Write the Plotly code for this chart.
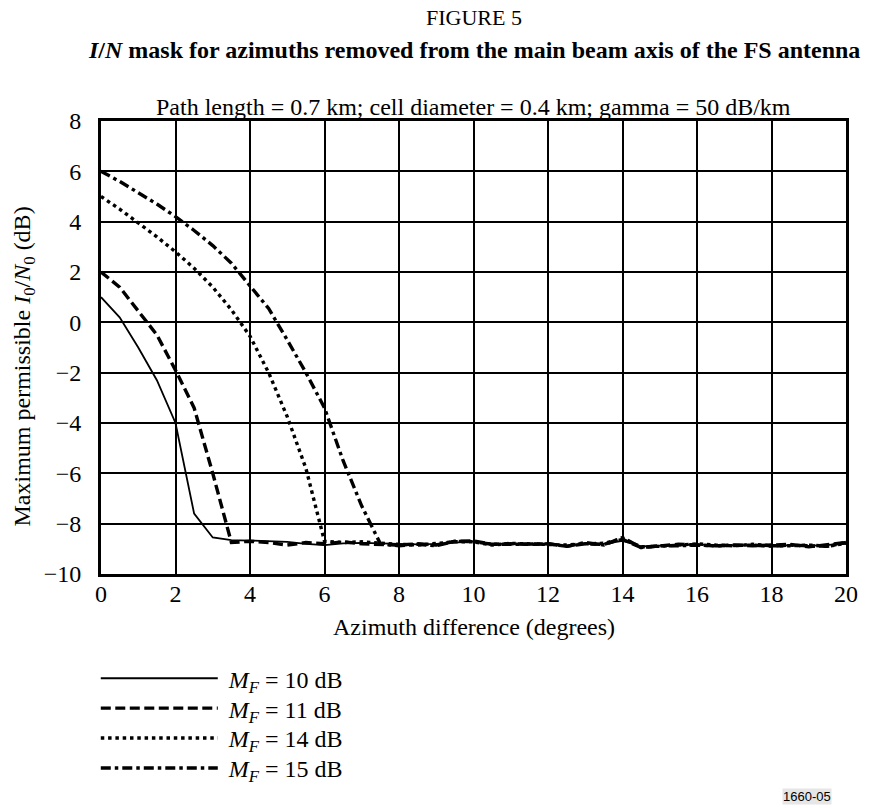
import plotly.graph_objects as go

# ---------------- data ----------------
azimuth = [0, 0.5, 1, 1.5, 2, 2.5, 3, 3.5, 4, 4.5, 5, 5.5, 6, 6.5, 7, 7.5,
           8, 8.5, 9, 9.5, 10, 10.5, 11, 11.5, 12, 12.5, 13, 13.5, 14, 14.5,
           15, 15.5, 16, 16.5, 17, 17.5, 18, 18.5, 19, 19.5, 20]

mf10 = [1.0, 0.2, -1.0, -2.3, -4.0, -7.6, -8.55, -8.65, -8.67, -8.70, -8.72, -8.80, -8.85, -8.78, -8.76, -8.78,
        -8.80, -8.82, -8.80, -8.74, -8.70, -8.80, -8.80, -8.80, -8.82, -8.88, -8.78, -8.80, -8.68, -8.90,
        -8.88, -8.85, -8.82, -8.86, -8.85, -8.85, -8.88, -8.85, -8.88, -8.85, -8.80]
mf11 = [2.0, 1.4, 0.45, -0.5, -1.9, -3.4, -6.0, -8.75, -8.70, -8.75, -8.85, -8.75, -8.80, -8.72, -8.80, -8.82,
        -8.85, -8.80, -8.85, -8.70, -8.68, -8.82, -8.80, -8.82, -8.80, -8.90, -8.80, -8.82, -8.62, -8.95,
        -8.88, -8.82, -8.85, -8.88, -8.85, -8.88, -8.85, -8.82, -8.92, -8.85, -8.75]
mf14 = [5.0, 4.5, 3.95, 3.4, 2.8, 2.15, 1.4, 0.5, -0.55, -2.0, -3.75, -5.8, -8.70, -8.75, -8.72, -8.78,
        -8.82, -8.85, -8.80, -8.72, -8.72, -8.85, -8.78, -8.80, -8.85, -8.85, -8.80, -8.78, -8.60, -8.92,
        -8.90, -8.85, -8.80, -8.85, -8.88, -8.82, -8.88, -8.88, -8.85, -8.90, -8.78]
mf15 = [6.0, 5.6, 5.15, 4.7, 4.2, 3.65, 3.05, 2.35, 1.45, 0.55, -0.7, -2.0, -3.4, -5.5, -7.3, -8.80,
        -8.88, -8.82, -8.88, -8.70, -8.72, -8.82, -8.82, -8.82, -8.80, -8.90, -8.75, -8.85, -8.55, -8.95,
        -8.88, -8.88, -8.85, -8.88, -8.88, -8.85, -8.90, -8.85, -8.88, -8.90, -8.75]

series_names = ["<i>M<sub>F</sub></i> = 10 dB", "<i>M<sub>F</sub></i> = 11 dB",
                "<i>M<sub>F</sub></i> = 14 dB", "<i>M<sub>F</sub></i> = 15 dB"]
series_values = [mf10, mf11, mf14, mf15]

x_ticks = [0, 2, 4, 6, 8, 10, 12, 14, 16, 18, 20]
y_ticks = [-10, -8, -6, -4, -2, 0, 2, 4, 6, 8]

# ---------------- styles ----------------
styles = [
    dict(width=1.8, dash="solid"),
    dict(width=3.4, dash="10px,4.5px"),
    dict(width=3.4, dash="3.5px,3.8px"),
    dict(width=3.4, dash="10px,4px,3.5px,4px"),
]
legend_ids = ["legend", "legend2", "legend3", "legend4"]
legend_rows = [-0.231, -0.297, -0.363, -0.429]

FONT = "Liberation Serif"
FS = 24

fig = go.Figure()
for name, vals, st, lid in zip(series_names, series_values, styles, legend_ids):
    fig.add_trace(go.Scatter(x=azimuth, y=vals, mode="lines", name="&nbsp;" + name, legend=lid,
                             line=dict(color="black", width=st["width"], dash=st["dash"])))

layout_legends = {}
for lid, ly in zip(legend_ids, legend_rows):
    layout_legends[lid] = dict(x=-0.007, y=ly, xanchor="left", yanchor="middle",
                               itemwidth=117, font=dict(family=FONT, size=FS, color="black"),
                               bgcolor="rgba(0,0,0,0)")

fig.update_layout(
    width=870, height=808,
    margin=dict(l=101, r=12, t=121, b=234),
    paper_bgcolor="white", plot_bgcolor="white",
    font=dict(family=FONT, size=FS, color="black"),
    showlegend=True,
    xaxis=dict(range=[0, 20], tickvals=x_ticks, showgrid=True, gridcolor="black", gridwidth=2,
               showline=True, linecolor="black", linewidth=3, mirror=True, zeroline=False,
               ticks="", ticklabelstandoff=-4, tickfont=dict(family=FONT, size=FS, color="black")),
    yaxis=dict(range=[-10, 8], tickvals=y_ticks, showgrid=True, gridcolor="black", gridwidth=2,
               showline=True, linecolor="black", linewidth=3, mirror=True, zeroline=False,
               ticks="", ticklabelstandoff=12, tickfont=dict(family=FONT, size=FS, color="black")),
    **layout_legends,
)

annots = [
    dict(text="FIGURE 5", x=0.5, y=1.2274, size=22),
    dict(text="<b><i>I</i>/<i>N</i> mask for azimuths removed from the main beam axis of the FS antenna</b>",
         x=0.5, y=1.1567, size=24),
    dict(text="Path length = 0.7 km; cell diameter = 0.4 km; gamma = 50 dB/km", x=0.5, y=1.03, size=24),
    dict(text="Azimuth difference (degrees)", x=0.5, y=-0.117, size=24),
]
for a in annots:
    fig.add_annotation(text=a["text"], x=a["x"], y=a["y"], xref="paper", yref="paper",
                       xanchor="center", yanchor="middle", showarrow=False,
                       font=dict(family=FONT, size=a["size"], color="black"))

fig.add_annotation(text="Maximum permissible <i>I</i><sub>0</sub>/<i>N</i><sub>0</sub> (dB)",
                   x=-0.104, y=0.457, xref="paper", yref="paper", textangle=-90,
                   xanchor="center", yanchor="middle", showarrow=False,
                   font=dict(family=FONT, size=FS, color="black"))

fig.add_annotation(text="1660-05", x=0.948, y=-0.492, xref="paper", yref="paper",
                   xanchor="center", yanchor="middle", showarrow=False, borderpad=0,
                   bgcolor="#e6e6e6", font=dict(family="Liberation Sans", size=13, color="black"))

fig.write_html("out.html")
